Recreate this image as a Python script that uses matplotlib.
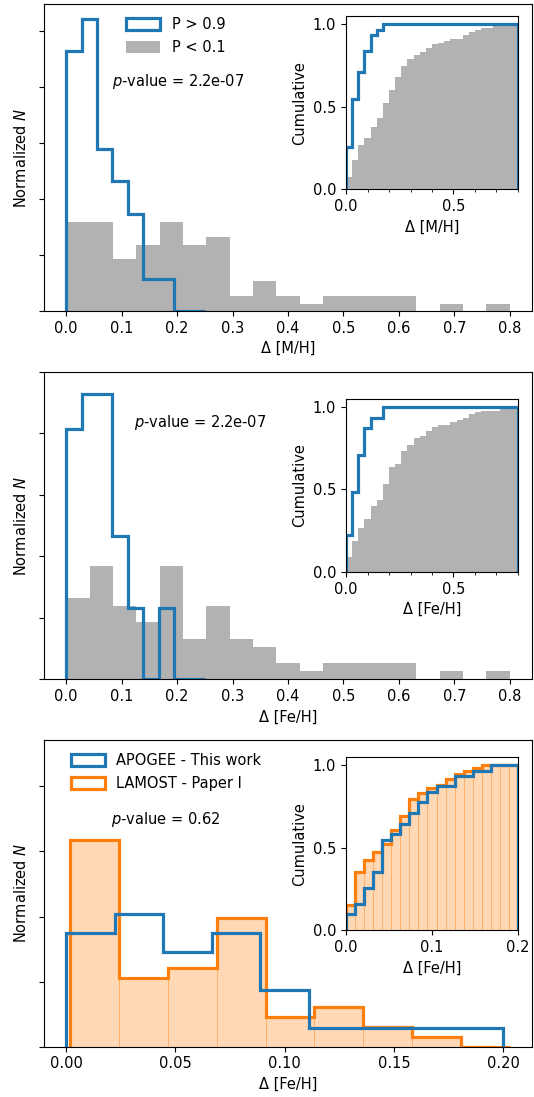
import numpy as np
import matplotlib
matplotlib.use("Agg")
import matplotlib.pyplot as plt
from matplotlib.ticker import MultipleLocator

plt.rcParams["font.family"] = "DejaVu Sans"
plt.rcParams["font.size"] = 10.5

# --- main histograms (counts per bin) ---
# P > 0.9 / P < 0.1 samples, Delta [M/H]
blue_mh_counts = [8, 9, 5, 4, 3, 1, 1, 0, 0]
gray_mh_counts = [12, 12, 7, 9, 12, 9, 10, 2, 4, 2, 1, 2, 2, 2, 2, 0, 1, 0, 1]
# same samples, Delta [Fe/H]
blue_feh_counts = [7, 8, 8, 4, 2, 0, 2, 0, 0]
gray_feh_counts = [10, 14, 9, 7, 14, 5, 9, 5, 4, 2, 1, 2, 2, 2, 2, 0, 1, 0, 1]
# APOGEE vs LAMOST, Delta [Fe/H]
apogee_counts = [6, 7, 5, 6, 3, 1, 1, 1, 1]
lamost_counts = [21, 7, 8, 13, 3, 4, 2, 1, 0]

blue_range = (0.0, 0.25)
gray_range = (0.0, 0.8)
apogee_range = (0.0, 0.2)
lamost_range = (0.0018, 0.203)

# --- cumulative counts for the insets ---
cum_blue_mh = [8, 17, 22, 26, 29, 30] + [31] * 22
cum_gray_mh = [7, 16, 24, 28, 34, 39, 47, 54, 61, 67, 71, 73, 75, 77, 79, 80,
               81, 82, 82, 84, 86, 87, 88, 88, 89, 89, 89, 90]
cum_blue_feh = [7, 15, 22, 27, 29, 29] + [31] * 22
cum_gray_feh = [8, 17, 24, 29, 36, 39, 48, 57, 59, 66, 69, 73, 74, 77, 79, 80,
                80, 82, 83, 84, 86, 87, 88, 88, 88, 89, 89, 90]
cum_apogee = [3, 5, 8, 11, 17, 18, 20, 22, 24, 26, 27, 27, 29, 29, 30, 30, 31, 31, 31]
cum_lamost = [9, 21, 25, 28, 31, 36, 41, 47, 49, 51, 52, 54, 56, 57, 58, 59, 59, 59, 59]

pvalues = ["2.2e-07", "2.2e-07", "0.62"]

LW = 2.3


def hist_from_counts(ax, counts, rng, density=True, **kw):
    counts = np.asarray(counts, float)
    edges = np.linspace(rng[0], rng[1], len(counts) + 1)
    w = counts
    if density:
        w = counts / (counts.sum() * np.diff(edges))
    return ax.hist(edges[:-1], bins=edges, weights=w, **kw)


def cum_from_counts(ax, cum, rng, **kw):
    cum = np.asarray(cum, float)
    edges = np.linspace(rng[0], rng[1], len(cum) + 1)
    return ax.hist(edges[:-1], bins=edges, weights=cum / cum[-1], **kw)


fig = plt.figure(figsize=(5.34, 10.97), dpi=100)

main_rects = [[0.0824, 0.7165, 0.9139, 0.2799],
              [0.0824, 0.3810, 0.9139, 0.2799],
              [0.0824, 0.0459, 0.9139, 0.2799]]
inset_rects = [[0.648, 0.8274, 0.322, 0.158],
               [0.648, 0.4786, 0.322, 0.158],
               [0.648, 0.1520, 0.322, 0.158]]

leg_kw = dict(loc="upper left", frameon=False, handlelength=2.3, handleheight=0.85,
              labelspacing=0.55, borderaxespad=0.3)

# ---- panels 1 and 2 : P > 0.9 vs P < 0.1 ----
panels = [(blue_mh_counts, gray_mh_counts, cum_blue_mh, cum_gray_mh, "Δ [M/H]"),
          (blue_feh_counts, gray_feh_counts, cum_blue_feh, cum_gray_feh, "Δ [Fe/H]")]
ptext_pos = [(0.139, 0.747), (0.184, 0.836)]

for i, (bc, gc, cb, cg, xlab) in enumerate(panels):
    ax = fig.add_axes(main_rects[i])
    hist_from_counts(ax, bc, blue_range, histtype="step", color="C0", lw=LW, label="P > 0.9")
    hist_from_counts(ax, gc, gray_range, color="k", alpha=0.3, label="P < 0.1")
    ax.set_yticks(np.arange(0, 11, 2))
    ax.set_yticklabels([])
    ax.set_ylabel("Normalized $N$")
    ax.set_xlabel(xlab)
    ax.set_xticks(np.arange(0, 0.81, 0.1))
    ax.text(*ptext_pos[i], f"$p$-value = {pvalues[i]}", transform=ax.transAxes, va="center")
    if i == 0:
        ax.legend(bbox_to_anchor=(0.148, 0.99), **leg_kw)

    ins = fig.add_axes(inset_rects[i])
    cum_from_counts(ins, cb, gray_range, histtype="step", color="C0", lw=LW)
    cum_from_counts(ins, cg, gray_range, color="k", alpha=0.3)
    ins.set_xlim(0, 0.8)
    ins.set_ylim(0, 1.05)
    ins.set_xticks([0, 0.5])
    ins.xaxis.set_minor_locator(MultipleLocator(0.1))
    ins.set_yticks([0, 0.5, 1.0])
    ins.set_ylabel("Cumulative")
    ins.set_xlabel(xlab)

# ---- panel 3 : APOGEE vs LAMOST ----
ax = fig.add_axes(main_rects[2])
hist_from_counts(ax, lamost_counts, lamost_range, color="C1", alpha=0.3, ec="C1", lw=0.6)
_, _, p_lam = hist_from_counts(ax, lamost_counts, lamost_range, histtype="step", color="C1", lw=LW,
                               label="LAMOST - Paper I")
_, _, p_apo = hist_from_counts(ax, apogee_counts, apogee_range, histtype="step", color="C0", lw=LW,
                               label="APOGEE - This work")
ax.set_ylim(0, 23.6)
ax.set_yticks(np.arange(0, 21, 5))
ax.set_yticklabels([])
ax.set_xticks(np.arange(0, 0.21, 0.05))
ax.set_ylabel("Normalized $N$")
ax.set_xlabel("Δ [Fe/H]")
ax.text(0.137, 0.739, f"$p$-value = {pvalues[2]}", transform=ax.transAxes, va="center")
ax.legend([p_apo[0], p_lam[0]], ["APOGEE - This work", "LAMOST - Paper I"],
          bbox_to_anchor=(0.035, 0.99), **leg_kw)

ins = fig.add_axes(inset_rects[2])
cum_from_counts(ins, cum_lamost, apogee_range, color="C1", alpha=0.3, ec="C1", lw=0.6)
cum_from_counts(ins, cum_lamost, apogee_range, histtype="step", color="C1", lw=LW)
cum_from_counts(ins, cum_apogee, apogee_range, histtype="step", color="C0", lw=LW)
ins.set_xlim(0, 0.2)
ins.set_ylim(0, 1.05)
ins.set_xticks([0, 0.1, 0.2])
ins.set_yticks([0, 0.5, 1.0])
ins.set_ylabel("Cumulative")
ins.set_xlabel("Δ [Fe/H]")

fig.savefig("out.png", dpi=100)
